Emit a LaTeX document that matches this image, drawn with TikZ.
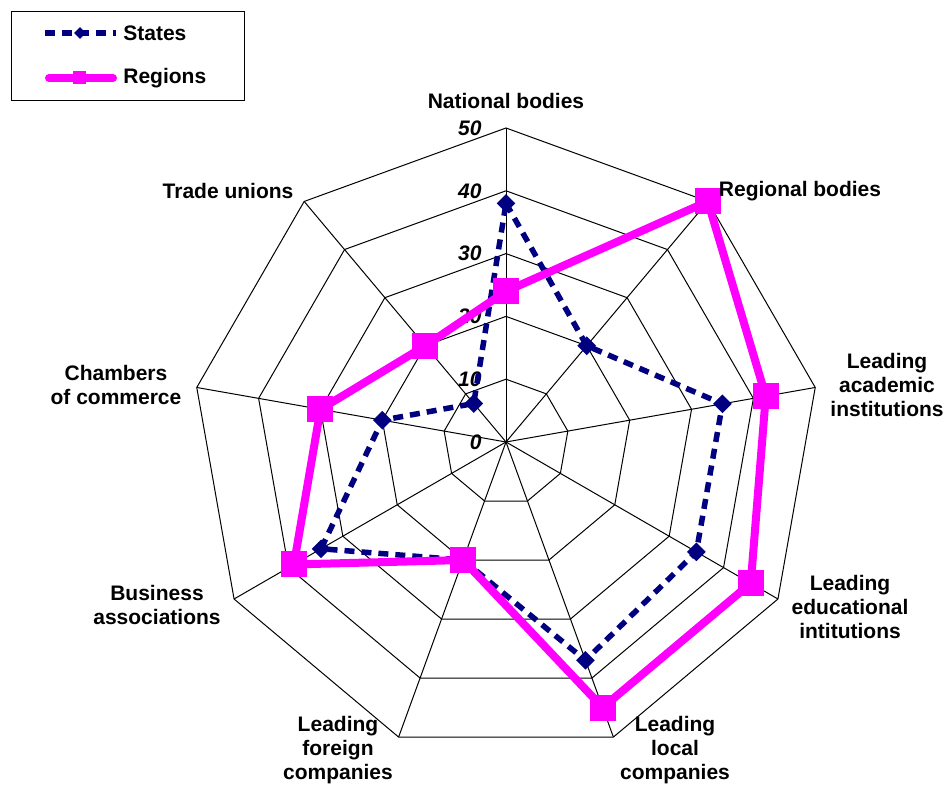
\documentclass[tikz,border=0pt]{standalone}
\usepackage{fontspec}
\setmainfont{Liberation Sans}
\usetikzlibrary{shapes,positioning,calc}
\definecolor{statesblue}{RGB}{0,0,128}
\definecolor{regionsmagenta}{RGB}{255,0,255}

\begin{document}
\begin{tikzpicture}[x=0.5pt, y=0.5pt,
    axislabel/.style={font=\fontsize{10.5}{12}\selectfont\bfseries, align=center, inner sep=0pt},
    ticklabel/.style={font=\fontsize{10.5}{12}\selectfont\bfseries\itshape, anchor=east, inner sep=0pt},
    gridline/.style={black, line width=0.5pt},
    statesline/.style={statesblue, line width=2.75pt, dash pattern=on 5pt off 3.5pt},
    regionsline/.style={regionsmagenta, line width=4pt, line join=round},
    statesmark/.style={diamond, fill=statesblue, inner sep=0pt, minimum size=9.5pt},
    regionsmark/.style={rectangle, fill=regionsmagenta, inner sep=0pt, minimum size=13pt}]
        \useasboundingbox (-506,-343) rectangle (439,442);

        % Grid
        \foreach \r in {10,20,...,50}
            \draw[gridline] (90:{\r*6.28}) \foreach \a in {50,10,...,-230} {-- (\a:{\r*6.28})} -- cycle;
        \foreach \a in {90,50,...,-230}
            \draw[gridline] (0,0) -- (\a:314);
        \foreach \t in {0,10,...,50}
            \node[ticklabel] (tick\t) at (-24,{\t*6.28}) {\t};

        % Data points
        \foreach \v [count=\i] in {38,20,35,35,37,20,34,20,8}
            \coordinate (s\i) at ({130-40*\i}:{\v*6.28});
        \foreach \v [count=\i] in {24,50,42,45,45,20,39,30,20}
            \coordinate (r\i) at ({130-40*\i}:{\v*6.28});

        % Draw series
        \draw[statesline] (s1) -- (s2) -- (s3) -- (s4) -- (s5) -- (s6) -- (s7) -- (s8) -- (s9) -- cycle;
        \foreach \i in {1,...,9}
            \node[statesmark] (smark\i) at (s\i) {};
        \draw[regionsline] (r1) -- (r2) -- (r3) -- (r4) -- (r5) -- (r6) -- (r7) -- (r8) -- (r9) -- cycle;
        \foreach \i in {1,...,9}
            \node[regionsmark] (rmark\i) at (r\i) {};

        % Axis labels
        \node[axislabel] (national) at (0,341) {National bodies};
        \node[axislabel] (regional) at (294,251) {Regional bodies};
        \node[axislabel] (academic) at (381,57) {Leading\\academic\\institutions};
        \node[axislabel] (educational) at (344,-165) {Leading\\educational\\intitutions};
        \node[axislabel] (local) at (169,-308) {Leading\\local\\companies};
        \node[axislabel] (foreign) at (-168,-308) {Leading\\foreign\\companies};
        \node[axislabel] (business) at (-349,-163) {Business\\associations};
        \node[axislabel] (chambers) at (-390,57) {Chambers\\of commerce};
        \node[axislabel] (trade) at (-278,251) {Trade unions};

        % Legend
        \node (legend) [draw, gridline, minimum width=116.5pt, minimum height=44.5pt, inner sep=0pt] at (-377.5,385.5) {};
        \coordinate (statesA) at (-461,409);
        \coordinate (statesB) at (-390,409);
        \coordinate (regionsA) at (-457,364);
        \coordinate (regionsB) at (-393,364);
        \draw[statesline] (statesA) -- (statesB);
        \node[statesmark, minimum size=6pt] (statesdot) at (-426,409) {};
        \draw[regionsline, line cap=round] (regionsA) -- (regionsB);
        \node[regionsmark, minimum size=6.5pt] (regionsdot) at (-426,364) {};
        \node[axislabel, anchor=west] (stateskey) at (-383,409) {States};
        \node[axislabel, anchor=west] (regionskey) at (-383,364) {Regions};
    \end{tikzpicture}
\end{document}
